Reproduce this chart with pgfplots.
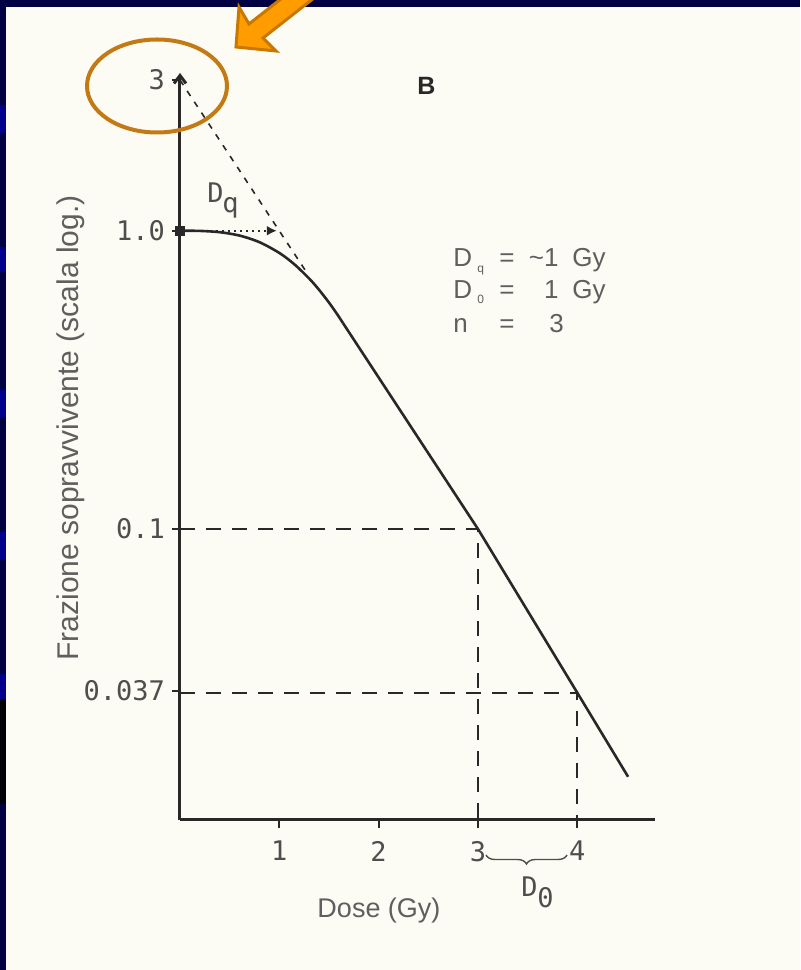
\documentclass[border=0pt]{standalone}
\usepackage{pgfplots}
\pgfplotsset{compat=1.18}
\usepackage{fontspec}
\setmainfont{Liberation Sans}
\newfontfamily\monofont{DejaVu Sans Mono}
\usetikzlibrary{arrows.meta,decorations.pathreplacing}

\definecolor{paper}{RGB}{252,252,244}
\definecolor{navy}{RGB}{0,0,66}
\definecolor{slideblue}{RGB}{0,0,140}
\definecolor{ink}{RGB}{40,40,40}
\definecolor{tickgray}{RGB}{78,78,78}
\definecolor{labelgray}{RGB}{95,95,95}
\definecolor{arrowfill}{RGB}{255,156,0}
\definecolor{arrowedge}{RGB}{200,120,0}
\definecolor{ringcol}{RGB}{195,122,20}

\begin{document}
\begin{tikzpicture}
\useasboundingbox (0,0) rectangle (400pt,485pt);
\clip (0,0) rectangle (400pt,485pt);

% slide background and paper
\begin{scope}[x=0.5pt,y=-0.5pt,yshift=485pt]
  \fill[paper] (0,0) rectangle (800,970);
  \fill[navy] (0,0) rectangle (800,7);
  \fill[navy] (0,0) rectangle (6,970);
  \foreach \a/\b in {105/133,247/272,390/417,532/560,674/699}
    \fill[slideblue] (0,\a) rectangle (6,\b);
  \fill[black!92!navy] (0,699) rectangle (6,804);
\end{scope}

\begin{axis}[
  at={(90pt,75pt)}, anchor=south west,
  scale only axis, width=237.5pt, height=373.5pt,
  xmin=0, xmax=4.783,
  ymin=0.01674, ymax=3.16,
  % schematic logarithmic survival axis (piecewise log scale)
  y coord trafo/.code={%
    \pgfmathparse{ln(#1)/2.302585}%
    \let\logy=\pgfmathresult
    \pgfmathparse{\logy>=0 ? 590+314.4*\logy : (\logy>=-1 ? 590+297*\logy : 293+377.5*(\logy+1))}%
  },
  axis lines=left,
  axis line style={ink, line width=1.5pt},
  x axis line style={-},
  y axis line style={-{Straight Barb[length=4pt,width=6pt]}},
  xtick={1,2,3,4}, xticklabels={1,2,3,4},
  ytick={0.037,0.1,1,3}, yticklabels={0.037,0.1,1.0,3},
  tick align=outside, major tick length=4pt,
  tick style={ink, line width=1pt},
  ticklabel style={font=\monofont\fontsize{13.5}{16}\selectfont, text=tickgray},
  xticklabel style={yshift=-3pt},
  clip=false,
]
% shoulder of the survival curve
\addplot[ink, line width=1.3pt, smooth] coordinates {
  (0,1.0) (0.2014,0.99861) (0.4028,0.98867) (0.6042,0.96250) (0.8056,0.91372)
  (1.0070,0.83967) (1.1581,0.76846) (1.3092,0.68667) (1.4099,0.62807)
  (1.5106,0.56806) (1.5811,0.52583) (1.6415,0.49005)};
% exponential (straight) part
\addplot[ink, line width=1.3pt] coordinates {
  (1.6415,0.49005) (3,0.1) (4,0.037) (4.512,0.0222)};
% extrapolation back to n = 3
\addplot[ink, line width=0.8pt, dash pattern=on 3pt off 3.5pt] coordinates {
  (0,3) (1.279,0.722)};
% guide lines at 0.1 and 0.037
\addplot[ink, line width=1pt, dash pattern=on 7.5pt off 5.5pt] coordinates {
  (0,0.1) (3,0.1) (3,0.01674)};
\addplot[ink, line width=1pt, dash pattern=on 7.5pt off 5.5pt] coordinates {
  (0,0.037) (4,0.037) (4,0.01674)};
% quasi-threshold dose Dq
\addplot[ink, line width=1pt, dash pattern=on 1pt off 2pt, -{Latex[length=5pt,width=5pt]}] coordinates {
  (0.06,1) (0.975,1)};
\addplot[only marks, mark=square*, mark size=2.2pt, ink] coordinates {(0,1)};
\end{axis}

\begin{scope}[x=0.5pt,y=-0.5pt,yshift=485pt]
  % axis titles
  \node[font=\fontsize{15}{18}\selectfont, rotate=90, anchor=base, text=labelgray]
    at (78,428) {Frazione sopravvivente (scala log.)};
  \node[font=\fontsize{13.5}{16}\selectfont, anchor=base, text=labelgray]
    at (379,918) {Dose (Gy)};
  \node[font=\bfseries\fontsize{12.5}{15}\selectfont, anchor=base west, text=ink, inner sep=0pt]
    at (417,95) {B};
  % Dq label
  \node[font=\monofont\fontsize{13.5}{16}\selectfont, anchor=base west, text=tickgray, inner sep=0pt]
    at (207,203) {D};
  \node[font=\monofont\fontsize{13.5}{16}\selectfont, anchor=base west, text=tickgray, inner sep=0pt]
    at (222,213) {q};
  % D0 brace
  \draw[decorate, decoration={brace, mirror, amplitude=4.5pt}, tickgray, line width=0.7pt]
    (486,855) -- (567,855);
  \node[font=\monofont\fontsize{13.5}{16}\selectfont, anchor=base west, text=tickgray, inner sep=0pt]
    at (521,897) {D};
  \node[font=\monofont\fontsize{13.5}{16}\selectfont, anchor=base west, text=tickgray, inner sep=0pt]
    at (537,908) {0};
  % parameter box
  \begin{scope}[every node/.style={font=\fontsize{13}{15}\selectfont, text=labelgray, inner sep=0pt}]
    \node[anchor=base west] at (453,267) {D};
    \node[anchor=base west, font=\fontsize{6}{7}\selectfont] at (477,273) {q};
    \node[anchor=base west] at (499,267) {=};
    \node[anchor=base east] at (559,267) {\textasciitilde1};
    \node[anchor=base west] at (572,267) {Gy};
    \node[anchor=base west] at (453,299) {D};
    \node[anchor=base west, font=\fontsize{6}{7}\selectfont] at (477,304) {0};
    \node[anchor=base west] at (499,299) {=};
    \node[anchor=base east] at (559,299) {1};
    \node[anchor=base west] at (572,299) {Gy};
    \node[anchor=base west] at (453,333) {n};
    \node[anchor=base west] at (499,333) {=};
    \node[anchor=base west] at (549,333) {3};
  \end{scope}
  % highlight of the extrapolation number
  \draw[ringcol, line width=2pt] (157,86) ellipse [x radius=35pt, y radius=23.25pt];
  \filldraw[fill=arrowfill, draw=arrowedge, line width=1.5pt, line join=miter]
    (236,47) -- (239,7) -- (249,24) -- (328,-38) -- (342,-24) -- (263,38) -- (276,51) -- cycle;
\end{scope}
\end{tikzpicture}
\end{document}
